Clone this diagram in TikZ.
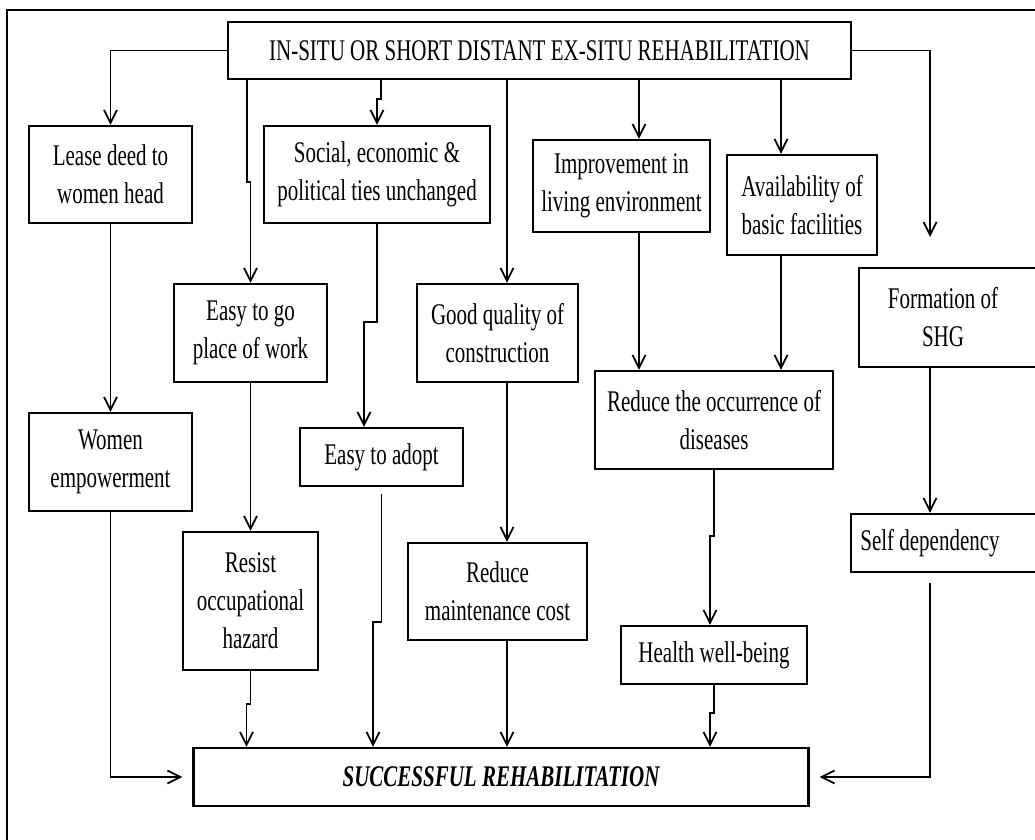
\documentclass[tikz,border=0pt]{standalone}
\usepackage{fontspec}
\setmainfont[FakeStretch=0.70]{Liberation Serif}
\usetikzlibrary{arrows.meta,calc}
\tikzset{
  txt/.style={font=\fontsize{30}{38}\selectfont},
  box/.style={draw, line width=2.1pt, inner sep=0pt, align=center, txt},
  arr/.style={line width=1.7pt,
    -{Straight Barb[length=13pt,width=13pt,line width=1.8pt]}},
  frame/.style={line width=2.6pt}
}
\begin{document}
\begin{tikzpicture}[x=1pt,y=-1pt]
\path[use as bounding box, clip] (0,0) rectangle (1035,839);
\draw[frame] (1045,10) -- (7,10) -- (7,850);

% nodes
\node[box, minimum width=623pt, minimum height=57pt] (top) at (539.5,50.5) {IN-SITU OR SHORT DISTANT EX-SITU REHABILITATION};
\node[box, minimum width=163pt, minimum height=97pt] (lease) at (110.5,174.5) {Lease deed to\\women head};
\node[box, minimum width=226pt, minimum height=97pt] (social) at (377,174.5) {Social, economic \&\\political ties unchanged};
\node[box, minimum width=177pt, minimum height=92pt] (improv) at (621.5,186) {Improvement in\\living environment};
\node[box, minimum width=150pt, minimum height=100pt] (avail) at (802,205) {Availability of\\basic facilities};
\node[box, minimum width=153pt, minimum height=98pt] (easygo) at (250.5,333) {Easy to go\\place of work};
\node[box, minimum width=161pt, minimum height=98pt] (goodq) at (497.5,333) {Good quality of\\construction};
\node[box, minimum width=181pt, minimum height=99pt,
  label={[txt, align=center, xshift=-6.5pt]center:{Formation of\\SHG}}] (formation) at (949.5,317.5) {};
\node[box, minimum width=163pt, minimum height=98pt] (women) at (110.5,462) {Women\\empowerment};
\node[box, minimum width=163pt, minimum height=58pt] (adopt) at (381.5,457) {Easy to adopt};
\node[box, minimum width=238pt, minimum height=98pt] (occ) at (714,420) {Reduce the occurrence of\\diseases};
\node[box, minimum width=189pt, minimum height=58pt,
  label={[txt, xshift=-15.5pt]center:{Self dependency}}] (selfdep) at (945.5,543) {};
\node[box, minimum width=135pt, minimum height=138pt] (resist) at (250.5,601) {Resist\\occupational\\hazard};
\node[box, minimum width=179pt, minimum height=97pt] (maint) at (497.5,591.5) {Reduce\\maintenance cost};
\node[box, minimum width=186pt, minimum height=58pt] (health) at (714,655) {Health well-being};
\node[box, minimum width=615pt, minimum height=58pt, font=\fontsize{30}{38}\selectfont\bfseries\itshape] (success) at (501,777) {SUCCESSFUL REHABILITATION};
\coordinate (fend) at (930,237);

% connectors from top
\draw[arr] (top.west) -| (lease.north);
\draw[arr] (top.east) -| (fend);
\draw[arr] ($(easygo.north |- top.south)+(-3.5,0)$) |- ($(easygo.north)+(0,-101)$) -- (easygo.north);
\draw[arr] ($(social.north |- top.south)+(4,0)$) |- ($(social.north)+(0,-26)$) -- (social.north);
\draw[arr] ($(goodq.north |- top.south)+(9.5,0)$) -- ($(goodq.north)+(9.5,0)$);
\draw[arr] ($(improv.north |- top.south)+(17.5,0)$) -- ($(improv.north)+(17.5,0)$);
\draw[arr] ($(avail.north |- top.south)+(-21,0)$) -- ($(avail.north)+(-21,0)$);

% second level
\draw[arr] (lease.south) -- (women.north);
\draw[arr] (social.south) |- ($(adopt.north)+(-17.5,-105)$) -- ($(adopt.north)+(-17.5,0)$);
\draw[arr] (easygo.south) -- (resist.north);
\draw[arr] ($(goodq.south)+(9.5,0)$) -- ($(maint.north)+(9.5,0)$);
\draw[arr] ($(improv.south)+(17.5,0)$) -- ($(occ.north)+(-75,0)$);
\draw[arr] ($(avail.south)+(-21,0)$) -- ($(occ.north)+(67,0)$);
\draw[arr] ($(formation.south)+(-19.5,0)$) -- ($(selfdep.north)+(-15.5,0)$);
\draw[arr] (occ.south) |- ($(health.north)+(-4,-89)$) -- ($(health.north)+(-4,0)$);

% into success
\draw[arr, shorten >=10pt] (women.south) |- (success.west);
\draw[arr] (resist.south) |- ($(success.north -| resist.south)+(-4,-43)$) -- ($(success.north -| resist.south)+(-4,0)$);
\draw[arr] ($(adopt.south)+(0,7)$) |- ($(success.north -| adopt.south)+(-8.5,-125)$) -- ($(success.north -| adopt.south)+(-8.5,0)$);
\draw[arr] ($(maint.south)+(9.5,0)$) -- ($(success.north -| maint.south)+(9.5,0)$);
\draw[arr] (health.south) |- ($(success.north -| health.south)+(-4,-34)$) -- ($(success.north -| health.south)+(-4,0)$);
\draw[arr, shorten >=10pt] ($(selfdep.south)+(-15.5,10)$) |- (success.east);
\end{tikzpicture}
\end{document}
